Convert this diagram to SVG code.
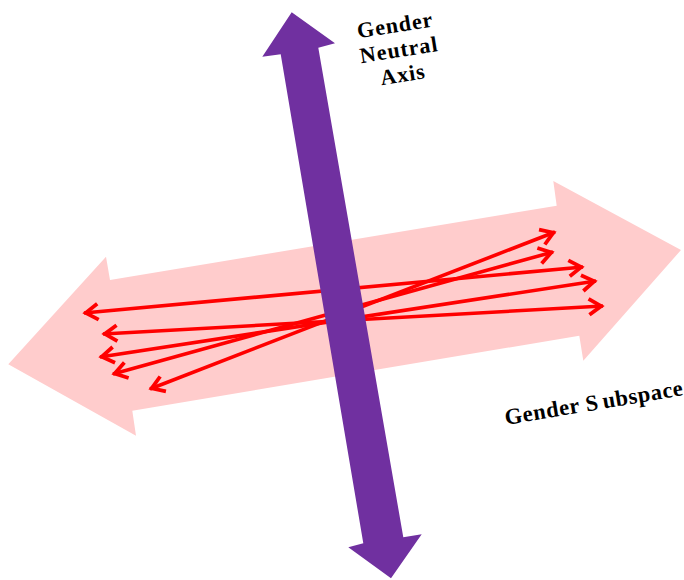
<svg xmlns="http://www.w3.org/2000/svg" width="684" height="580" viewBox="0 0 684 580">
  <style>
    .lbl { font-family: "Liberation Serif", "Times New Roman", serif; font-weight: bold; font-size: 22px; fill: #000; letter-spacing: 1px; }
    .vec { stroke: #FF0000; stroke-width: 3.6; fill: none; marker-start: url(#head); marker-end: url(#head); }
  </style>
  <defs>
    <marker id="head" markerUnits="userSpaceOnUse" viewBox="-18 -10 20 20" markerWidth="20" markerHeight="20" refX="0" refY="0" orient="auto-start-reverse" overflow="visible">
      <path d="M-14,-8 L-1.8,0 L-14,8" fill="none" stroke="#FF0000" stroke-width="3.8" stroke-linejoin="miter"/>
    </marker>
  </defs>
  <rect width="684" height="580" fill="#FFFFFF"/>

  <g id="gender-subspace-arrow">
    <polygon fill="#FFCCCC" points="681,250 553.3,181 556.7,205.7 110,280 106,256.7 8.3,364.3 136,435.7 132.3,410.7 579.3,335.7 583.3,360.7"/>
  </g>

  <g id="connectors">
    <line class="vec" x1="84" y1="313" x2="583" y2="267"/>
    <line class="vec" x1="103" y1="334" x2="603" y2="306"/>
    <line class="vec" x1="100" y1="357" x2="596" y2="281"/>
    <line class="vec" x1="113" y1="374" x2="553" y2="252"/>
    <line class="vec" x1="150" y1="389" x2="555" y2="232"/>
  </g>

  <g id="gender-neutral-axis">
    <polygon fill="#7030A0" points="291.7,12.3 335,43.3 318.3,47.7 403.3,537.3 421.7,534.3 391,578.3 348.3,547.3 363.3,543.3 280.7,54.3 262.3,56.7"/>
  </g>

  <g id="label-neutral" transform="rotate(-9 400 56)">
    <text class="lbl" x="400" y="32" text-anchor="middle">Gender</text>
    <text class="lbl" x="400" y="57" text-anchor="middle">Neutral</text>
    <text class="lbl" x="400" y="82" text-anchor="middle">Axis</text>
  </g>

  <g id="label-subspace" transform="rotate(-9.5 595 409)">
    <text class="lbl" x="595" y="410" text-anchor="middle" style="font-size:22.5px;letter-spacing:0.6px">Gender S<tspan dx="4">ubspace</tspan></text>
  </g>
</svg>
